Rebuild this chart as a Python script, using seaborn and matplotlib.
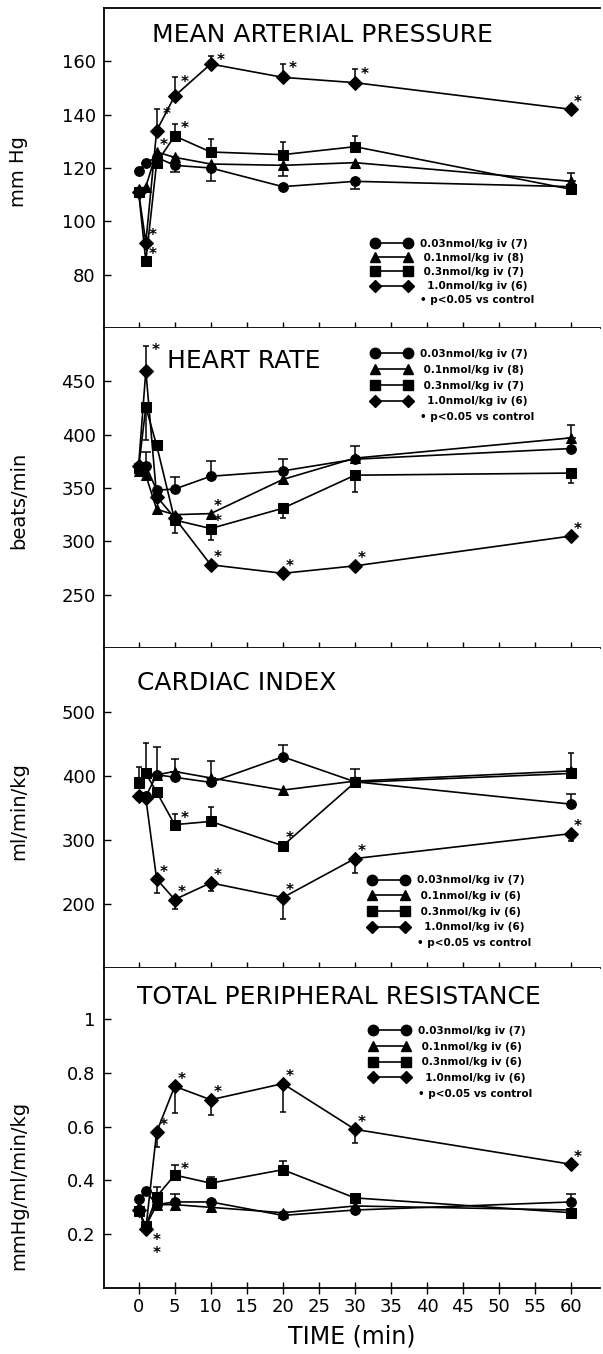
import matplotlib
matplotlib.use("Agg")
import matplotlib.pyplot as plt
from matplotlib.lines import Line2D
import numpy as np
import pandas as pd
import seaborn as sns

# --- data ---
time_min = [0, 1, 2.5, 5, 10, 20, 30, 60]
doses = ["0.03", "0.1", "0.3", "1.0"]
markers = {"0.03": "o", "0.1": "^", "0.3": "s", "1.0": "D"}
msizes = {"0.03": 7.5, "0.1": 7.5, "0.3": 7, "1.0": 6}

# mean arterial pressure (mm Hg)
map_003 = [119, 122, 124, 121, 120, 113, 115, 113]
map_01 = [112, 113, 126, 124, 121.5, 121, 122, 115]
map_03 = [111, 85, 122, 132, 126, 125, 128, 112]
map_10 = [111, 92, 134, 147, 159, 154, 152, 142]
# one-sided SEM (positive = drawn up, negative = drawn down)
map_003_err = [0, 0, 0, 0, -5, 0, -3, 0]
map_01_err = [0, 0, 0, -5.5, 0, -4, 0, 3]
map_03_err = [0, 0, 0, 4.6, 5, 4.7, 4, 0]
map_10_err = [0, 0, 8, 7, 3, 5, 5, 0]
map_sig = {"0.1": [2], "0.3": [1, 3], "1.0": [1, 2, 3, 4, 5, 6, 7]}
map_n = ["(7)", "(8)", "(7)", "(6)"]

# heart rate (beats/min)
hr_003 = [371, 371, 348, 349, 361, 366, 377, 387]
hr_01 = [366, 362, 330, 325, 326, 358, 378, 397]
hr_03 = [369, 426, 390, 320, 312, 331, 362, 364]
hr_10 = [371, 460, 342, 322, 278, 270, 277, 305]
hr_003_err = [0, 13, 0, 11, 14, 11.5, 12, 0]
hr_01_err = [0, 0, 0, 0, 0, 0, 0, 12]
hr_03_err = [0, -31, 0, -12, -11, -9, -16, -9]
hr_10_err = [0, 23, 0, 0, 0, 0, 0, 0]
hr_sig = {"0.1": [4], "0.3": [4], "1.0": [1, 4, 5, 6, 7]}
hr_n = ["(7)", "(8)", "(7)", "(6)"]

# cardiac index (ml/min/kg)
ci_003 = [369, 368, 402, 398, 390, 430, 391, 356]
ci_01 = [389, 404, 402, 407, 397, 378, 392, 408]
ci_03 = [391, 404, 375, 324, 329, 291, 390, 404]
ci_10 = [369, 365, 239, 207, 233, 210, 271, 310]
ci_003_err = [0, 0, 0, 0, 0, 19, 20, 16]
ci_01_err = [0, 0, 44, 20, 26, 0, 0, 0]
ci_03_err = [23, 48, 0, 17, 22, 0, 0, 32]
ci_10_err = [0, 0, -22, -15, -12, -33, -23, -12]
ci_sig = {"0.3": [3, 5], "1.0": [2, 3, 4, 5, 6, 7]}
ci_n = ["(7)", "(6)", "(6)", "(6)"]

# total peripheral resistance (mmHg/ml/min/kg)
tpr_003 = [0.33, 0.36, 0.31, 0.32, 0.32, 0.27, 0.29, 0.32]
tpr_01 = [0.29, 0.23, 0.31, 0.31, 0.30, 0.28, 0.305, 0.29]
tpr_03 = [0.285, 0.23, 0.34, 0.42, 0.39, 0.44, 0.335, 0.28]
tpr_10 = [0.29, 0.22, 0.58, 0.75, 0.70, 0.76, 0.59, 0.46]
tpr_003_err = [0, 0, 0, 0.03, 0, 0, 0, 0.028]
tpr_01_err = [0, 0, 0, 0, 0, 0, 0, 0]
tpr_03_err = [0, 0, 0.034, 0.038, 0.023, 0.033, 0, 0]
tpr_10_err = [0, 0, -0.055, -0.10, -0.058, -0.104, -0.05, 0]
tpr_sig = {"0.3": [3], "1.0": [2, 3, 4, 5, 6, 7]}
tpr_sig_low = {"0.3": [1], "1.0": [1]}   # asterisks drawn below the point
tpr_n = ["(7)", "(6)", "(6)", "(6)"]

panels = [
    dict(title="MEAN ARTERIAL PRESSURE", ylabel="mm Hg",
         vals=[map_003, map_01, map_03, map_10],
         errs=[map_003_err, map_01_err, map_03_err, map_10_err],
         sig=map_sig, low={}, n=map_n, ylim=(60, 180),
         yticks=[80, 100, 120, 140, 160], ytl=["80", "100", "120", "140", "160"],
         title_xy=(0.097, 0.915), ylab_y=0.49, leg_xy=(0.540, 0.279), lsp=0.40),
    dict(title="HEART RATE", ylabel="beats/min",
         vals=[hr_003, hr_01, hr_03, hr_10],
         errs=[hr_003_err, hr_01_err, hr_03_err, hr_10_err],
         sig=hr_sig, low={}, n=hr_n, ylim=(200, 500),
         yticks=[250, 300, 350, 400, 450], ytl=["250", "300", "350", "400", "450"],
         title_xy=(0.127, 0.897), ylab_y=0.46, leg_xy=(0.540, 0.934), lsp=0.55),
    dict(title="CARDIAC INDEX", ylabel="ml/min/kg",
         vals=[ci_003, ci_01, ci_03, ci_10],
         errs=[ci_003_err, ci_01_err, ci_03_err, ci_10_err],
         sig=ci_sig, low={}, n=ci_n, ylim=(100, 600),
         yticks=[200, 300, 400, 500], ytl=["200", "300", "400", "500"],
         title_xy=(0.066, 0.89), ylab_y=0.49, leg_xy=(0.534, 0.290), lsp=0.55),
    dict(title="TOTAL PERIPHERAL RESISTANCE", ylabel="mmHg/ml/min/kg",
         vals=[tpr_003, tpr_01, tpr_03, tpr_10],
         errs=[tpr_003_err, tpr_01_err, tpr_03_err, tpr_10_err],
         sig=tpr_sig, low=tpr_sig_low, n=tpr_n, ylim=(0, 1.19),
         yticks=[0.2, 0.4, 0.6, 0.8, 1.0], ytl=["0.2", "0.4", "0.6", "0.8", "1"],
         title_xy=(0.066, 0.909), ylab_y=0.32, leg_xy=(0.536, 0.819), lsp=0.55),
]

sns.set_style("white")
plt.rcParams["font.family"] = ["DejaVu Sans"]
plt.rcParams.update({"text.color": "black", "axes.labelcolor": "black",
                     "xtick.color": "black", "ytick.color": "black"})

fig = plt.figure(figsize=(6.03, 13.54), dpi=100)
left, width = 0.1725, 0.8226
height = 320 / 1354
bottom0 = 66 / 1354

star_kw = dict(textcoords="offset points", ha="center", va="center",
               fontsize=11, fontweight="bold", color="black")

axes = []
for i, p in enumerate(panels):
    b = bottom0 + (3 - i) * height
    ax = fig.add_axes([left, b, width, height], sharex=axes[0] if axes else None)
    axes.append(ax)

    rows = []
    for d, v in zip(doses, p["vals"]):
        for t, y in zip(time_min, v):
            rows.append({"time": t, "value": y, "dose": d})
    df = pd.DataFrame(rows)

    # one-sided error bars first so markers sit on top
    for d, v, e in zip(doses, p["vals"], p["errs"]):
        v = np.array(v, dtype=float)
        e = np.array(e, dtype=float)
        m = e != 0
        lo = np.where(e < 0, -e, 0)[m]
        up = np.where(e > 0, e, 0)[m]
        ax.errorbar(np.array(time_min)[m], v[m], yerr=[lo, up], fmt="none",
                    ecolor="black", elinewidth=1.1, capsize=2.5, capthick=1.1, zorder=2)

    sns.lineplot(data=df, x="time", y="value", hue="dose", style="dose",
                 hue_order=doses, style_order=doses,
                 palette={d: "black" for d in doses}, markers=markers, dashes=False,
                 markersize=7, markeredgecolor="black", linewidth=1.2,
                 sort=False, errorbar=None, legend=False, ax=ax, zorder=3)
    for line, d in zip(ax.get_lines(), doses):
        line.set_markersize(msizes[d])

    # significance asterisks: beside the cap if there is an upper bar, else up-right
    for d, v, e in zip(doses, p["vals"], p["errs"]):
        for k in p["sig"].get(d, []):
            if e[k] > 0:
                ax.annotate("*", xy=(time_min[k], v[k] + e[k]), xytext=(7, -3.5), **star_kw)
            else:
                ax.annotate("*", xy=(time_min[k], v[k]), xytext=(5, 5), **star_kw)
    for j, (d, ks) in enumerate(p["low"].items()):
        v = p["vals"][doses.index(d)]
        for k in ks:
            ax.annotate("*", xy=(time_min[k], v[k]), xytext=(8, -10 - 8 * j), **star_kw)

    # legend: marker - line - marker
    labels = [f"{d}nmol/kg iv {n}" for d, n in zip(doses, p["n"])]
    labels = [labels[0], " " + labels[1], " " + labels[2], "  " + labels[3]]
    handles = [Line2D([], [], color="black", marker=markers[d], markersize=msizes[d],
                      linewidth=1.2) for d in doses]
    handles.append(Line2D([], [], linestyle="none"))
    labels.append("\u2022 p<0.05 vs control")
    ax.legend(handles, labels, numpoints=2, loc="upper left", bbox_to_anchor=p["leg_xy"],
              frameon=False, prop={"size": 7.5, "weight": "bold"}, handlelength=3.8,
              handletextpad=0.85, labelspacing=p["lsp"], borderpad=0, borderaxespad=0)

    ax.text(p["title_xy"][0], p["title_xy"][1], p["title"], transform=ax.transAxes,
            ha="left", va="center", fontsize=18)

    ax.set_ylim(*p["ylim"])
    ax.set_yticks(p["yticks"])
    ax.set_yticklabels(p["ytl"])
    ax.set_ylabel(p["ylabel"], fontsize=14)
    ax.yaxis.set_label_coords(-0.153, p["ylab_y"])
    ax.tick_params(axis="y", direction="in", length=5, width=1, labelsize=13, pad=6, left=True)
    ax.tick_params(axis="x", direction="inout", length=9, width=1, bottom=True)

    ax.spines["right"].set_visible(False)
    ax.spines["top"].set_visible(i == 0)
    for s in ["left", "bottom", "top"]:
        ax.spines[s].set_linewidth(1.3)
        ax.spines[s].set_color("black")
    ax.set_xlabel("")
    if i < 3:
        ax.tick_params(axis="x", labelbottom=False)

ax = axes[-1]
ax.set_xlim(-4.8, 64.0)
ax.set_xticks(list(range(0, 61, 5)))
ax.tick_params(axis="x", labelsize=13, pad=3)
ax.set_xlabel("TIME (min)", fontsize=17, labelpad=6)

fig.savefig("out.png", dpi=100, facecolor="white")
